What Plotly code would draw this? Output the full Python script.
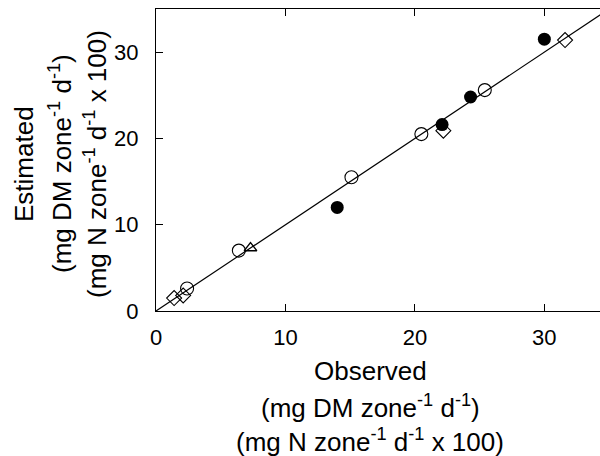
import plotly.graph_objects as go

# Data (Observed, Estimated)
filled_obs = [14.0, 22.1, 24.3, 30.0]
filled_est = [12.0, 21.6, 24.8, 31.5]

open_circle_obs = [2.4, 6.4, 15.1, 20.5, 25.4]
open_circle_est = [2.6, 7.0, 15.5, 20.5, 25.6]

diamond_obs = [1.4, 2.1, 22.2, 31.6]
diamond_est = [1.5, 1.8, 20.9, 31.4]

triangle_obs = [7.3]
triangle_est = [7.3]

line_x = [0, 40]
line_y = [0, 40]

x_ticks = [0, 10, 20, 30]
y_ticks = [0, 10, 20, 30]

fig = go.Figure()
fig.add_trace(go.Scatter(x=line_x, y=line_y, mode="lines",
                         line=dict(color="black", width=1.2), showlegend=False,
                         cliponaxis=True))
fig.add_trace(go.Scatter(x=open_circle_obs, y=open_circle_est, mode="markers",
                         marker=dict(symbol="circle-open", size=13, color="black",
                                     line=dict(width=1.1)), showlegend=False))
fig.add_trace(go.Scatter(x=diamond_obs, y=diamond_est, mode="markers",
                         marker=dict(symbol="diamond-open", size=11.5, color="black",
                                     line=dict(width=1.1)), showlegend=False))
fig.add_trace(go.Scatter(x=triangle_obs, y=triangle_est, mode="markers",
                         marker=dict(symbol="triangle-up-open", size=11, color="black",
                                     line=dict(width=1.3)), showlegend=False))
fig.add_trace(go.Scatter(x=filled_obs, y=filled_est, mode="markers",
                         marker=dict(symbol="circle", size=13, color="black"),
                         showlegend=False))

L, R, T, B = 156, 0, 9, 145
W, H = 600, 456
pw, ph = W - L - R, H - T - B

def px_x(px):
    return (px - L) / pw

def px_y(py):
    return (H - B - py) / ph

title_font = dict(family="Liberation Sans, Arial, Helvetica", size=26, color="black")
ann = []
x_lines = ["Observed",
           "(mg DM zone<sup>-1</sup> d<sup>-1</sup>)",
           "(mg N zone<sup>-1</sup> d<sup>-1</sup> x 100)"]
for txt, py in zip(x_lines, [371, 406, 440]):
    ann.append(dict(text=txt, xref="paper", yref="paper", x=px_x(370), y=px_y(py),
                    xanchor="center", yanchor="middle", showarrow=False, font=title_font))
y_lines = ["Estimated",
           "(mg DM zone<sup>-1</sup> d<sup>-1</sup>)",
           "(mg N zone<sup>-1</sup> d<sup>-1</sup> x 100)"]
for txt, px in zip(y_lines, [24, 60, 95]):
    ann.append(dict(text=txt, xref="paper", yref="paper", x=px_x(px), y=px_y(164),
                    xanchor="center", yanchor="middle", showarrow=False,
                    textangle=-90, font=title_font))

tick_font = dict(family="Liberation Sans, Arial, Helvetica", size=22, color="black")

fig.update_layout(
    width=W, height=H,
    margin=dict(l=L, r=R, t=T, b=B, pad=0),
    paper_bgcolor="white", plot_bgcolor="white",
    annotations=ann,
    xaxis=dict(range=[0, 34.3], tickvals=x_ticks, ticks="inside", ticklen=7,
               tickcolor="black", tickwidth=1, showline=True, linecolor="black",
               linewidth=1.2, mirror="ticks", showgrid=False, zeroline=False,
               tickfont=tick_font, ticklabelstandoff=6),
    yaxis=dict(range=[0, 35], tickvals=y_ticks, ticks="inside", ticklen=7,
               tickcolor="black", tickwidth=1, showline=True, linecolor="black",
               linewidth=1.2, mirror=False, showgrid=False, zeroline=False,
               tickfont=tick_font, ticklabelstandoff=12),
)

fig.write_html("out.html")
